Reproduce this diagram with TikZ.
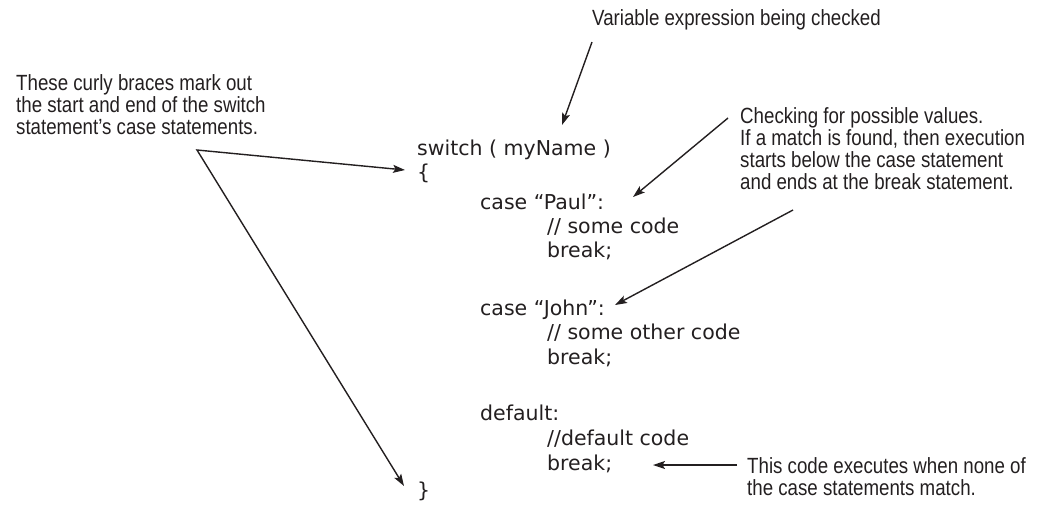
\documentclass[tikz,border=0pt]{standalone}
\usepackage{fontspec}
\setmainfont{Liberation Sans}
\newfontfamily\annfont[FakeStretch=0.85]{Liberation Sans}
\newfontfamily\codefont{DejaVu Sans}
\usetikzlibrary{arrows.meta}
\definecolor{ink}{HTML}{231F20}
\begin{document}
\begin{tikzpicture}[x=1pt,y=-1pt,
  ann/.style={font=\annfont\fontsize{22}{22}\selectfont, align=left, inner sep=0pt, text=ink},
  code/.style={font=\codefont\fontsize{20.5}{24}\selectfont, inner sep=0pt, anchor=base west, text=ink},
  arr/.style={draw=ink, line width=1.4pt, -{Stealth[length=12pt,width=8pt,inset=2.5pt]}},
  arrs/.style={draw=ink, line width=1.4pt, {Stealth[length=12pt,width=8pt,inset=2.5pt]}-{Stealth[length=12pt,width=8pt,inset=2.5pt]}, line join=miter}]
\useasboundingbox (0,0) rectangle (1043,504);

% annotations
\node[ann, anchor=base west] (varexp) at (592,25) {Variable expression being checked};
\node[ann, anchor=north west] (braces) at (16,74) {These curly braces mark out\\the start and end of the switch\\statement’s case statements.};
\node[ann, anchor=north west] (checking) at (740,107) {Checking for possible values.\\If a match is found, then execution\\starts below the case statement\\and ends at the break statement.};
\node[ann, anchor=north west] (none) at (747,457) {This code executes when none of\\the case statements match.};

% code
\node[code] (sw) at (417,155) {switch ( myName )};
\node[code] (ob) at (417,179) {\{};
\node[code] (cpaul) at (480,209) {case “Paul”:};
\node[code] (c1) at (547,233) {// some code};
\node[code] (b1) at (547,257) {break;};
\node[code] (cjohn) at (480,315) {case “John”:};
\node[code] (c2) at (547,339) {// some other code};
\node[code] (b2) at (547,364) {break;};
\node[code] (dflt) at (480,420) {default:};
\node[code] (c3) at (547,445) {//default code};
\node[code] (b3) at (547,470) {break;};
\node[code] (cb) at (417,497) {\}};

% connector points
\coordinate (v) at (197,150);
\coordinate (tob) at (405,170);
\coordinate (tcb) at (404,486);
\coordinate (vs) at (592,42);
\coordinate (vt) at (562,125);
\coordinate (k1s) at (728,118);
\coordinate (k1t) at (633,197);
\coordinate (k2s) at (793,210);
\coordinate (k2t) at (615,305);
\coordinate (ns) at (737,465);
\coordinate (nt) at (653,465);

\draw[arrs] (tob) -- (v) -- (tcb);
\draw[arr] (vs) -- (vt);
\draw[arr] (k1s) -- (k1t);
\draw[arr] (k2s) -- (k2t);
\draw[arr] (ns) -- (nt);
\end{tikzpicture}
\end{document}
